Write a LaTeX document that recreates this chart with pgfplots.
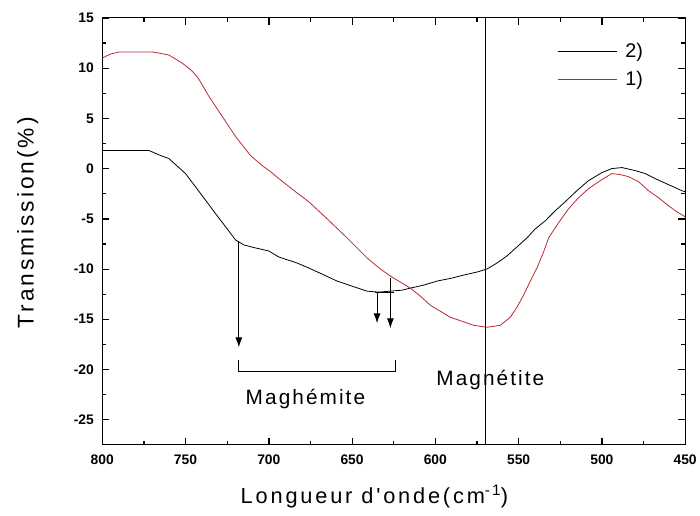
\documentclass[border=0pt]{standalone}
\usepackage{fontspec}
\setmainfont{Liberation Sans}
\newfontfamily\spaced[LetterSpace=10]{Liberation Sans}
\newfontfamily\spacedx[LetterSpace=13]{Liberation Sans}
\usepackage{pgfplots}
\pgfplotsset{compat=1.18}
\usetikzlibrary{calc,arrows.meta}
\definecolor{curvered}{RGB}{185,40,50}

\begin{document}
\begin{tikzpicture}
\begin{axis}[
    name=ax,
    scale only axis,
    width=587bp, height=430bp,
    x dir=reverse,
    xmin=450, xmax=800,
    ymin=-27.5, ymax=15,
    xtick={450,500,...,800},
    ytick={-25,-20,...,15},
    minor tick num=1,
    tick align=inside,
    tickwidth=7bp,
    subtickwidth=4bp,
    every tick/.append style={black, semithick},
    axis line style={line width=1pt},
    ticklabel style={font=\bfseries\fontsize{14}{16}\selectfont},
    xticklabel={\pgfmathprintnumber[assume math mode=true,1000 sep={}]{\tick}},
    yticklabel={\pgfmathprintnumber[assume math mode=true]{\tick}},
    xticklabel style={yshift=-7bp},
    yticklabel style={xshift=-5bp},
    xlabel={Longueur d'onde(cm\textsuperscript{-1})},
    ylabel={Transmission(\%)},
    xlabel style={font=\spacedx\fontsize{22}{25}\selectfont, at={(axis description cs:0.467,0)}, anchor=center, yshift=-52bp},
    ylabel style={font=\spacedx\fontsize{23}{26}\selectfont, at={(axis description cs:-0.128,0.52)}, anchor=center},
    legend style={draw=none, fill=none, at={(axis description cs:0.775,0.95)}, anchor=north west,
        font=\fontsize{20}{23}\selectfont, row sep=8bp,
        /tikz/every odd column/.append style={column sep=6bp}},
    legend cell align=left,
    legend image code/.code={\draw[#1] (0bp,0bp) -- (60bp,0bp);},
]

\addplot[black, line width=0.8pt] coordinates {
(800,1.8) (790,1.8) (780,1.8) (772,1.8) (765,1.3) (760,1.0) (750,-0.5)
(740,-2.7) (731,-4.7) (725,-6.0) (720,-7.1) (715,-7.6) (708,-7.9) (700,-8.2)
(694,-8.8) (683,-9.4) (676,-9.9) (668,-10.5) (659,-11.2) (650,-11.7) (641,-12.2)
(634,-12.3) (627,-12.2) (620,-12.1) (615,-11.9) (607,-11.6) (599,-11.2) (590,-10.9)
(583,-10.6) (575,-10.3) (569,-10.0) (563,-9.4) (557,-8.7) (551,-7.8) (545,-6.9)
(540,-6.0) (534,-5.2) (528,-4.2) (522,-3.3) (515,-2.2) (508,-1.2) (500,-0.4)
(494,0.0) (488,0.1) (480,-0.2) (474,-0.5) (468,-1.0) (460,-1.6) (452,-2.2) (450,-2.3)
};
\addlegendentry{2)}

\addplot[curvered, line width=0.8pt] coordinates {
(800,11.0) (795,11.4) (790,11.6) (780,11.6) (770,11.6) (766,11.5) (760,11.3)
(752,10.5) (746,9.7) (742,8.9) (736,7.2) (728,5.2) (720,3.2) (711,1.3) (704,0.3)
(699,-0.3) (694,-1.0) (684,-2.3) (676,-3.3) (665,-5.0) (653,-6.9) (641,-8.9)
(633,-10.0) (627,-10.7) (621,-11.3) (615,-11.9) (609,-12.7) (603,-13.6) (597,-14.2)
(591,-14.8) (584,-15.2) (577,-15.6) (569,-15.8) (561,-15.6) (555,-14.8) (551,-13.8)
(547,-12.6) (543,-11.2) (539,-9.9) (535,-8.3) (532,-6.9) (526,-5.4) (520,-4.0)
(514,-2.9) (508,-2.0) (501,-1.2) (494,-0.5) (489,-0.6) (484,-0.8) (478,-1.3)
(472,-2.2) (466,-2.9) (460,-3.7) (455,-4.3) (451,-4.7) (450,-4.8)
};
\addlegendentry{1)}

% Magnetite line
\addplot[black, line width=1pt, forget plot] coordinates {(570,15) (570,-27.5)};

% tick marks drawn by hand as well
\pgfplotsinvokeforeach{450,500,...,800}{
  \draw[line width=1pt] (axis cs:#1,-27.5) -- ++(0bp,7bp);
  \draw[line width=1pt] (axis cs:#1,15) -- ++(0bp,-7bp);
}
\pgfplotsinvokeforeach{475,525,...,775}{
  \draw[line width=1pt] (axis cs:#1,-27.5) -- ++(0bp,4bp);
  \draw[line width=1pt] (axis cs:#1,15) -- ++(0bp,-4bp);
}
\pgfplotsinvokeforeach{-25,-20,...,15}{
  \draw[line width=1pt] (axis cs:800,#1) -- ++(7bp,0bp);
  \draw[line width=1pt] (axis cs:450,#1) -- ++(-7bp,0bp);
}
\pgfplotsinvokeforeach{-22.5,-17.5,...,12.5}{
  \draw[line width=1pt] (axis cs:800,#1) -- ++(4bp,0bp);
  \draw[line width=1pt] (axis cs:450,#1) -- ++(-4bp,0bp);
}

% maghemite annotations
\draw[line width=1pt, -{Latex[length=10bp,width=7bp]}] (axis cs:718,-7.2) -- (axis cs:718,-17.8);
\draw[line width=0.8pt] (axis cs:636,-12.3) -- (axis cs:625,-12.3);
\draw[line width=1pt, -{Latex[length=10bp,width=7bp]}] (axis cs:635,-12.3) -- (axis cs:635,-15.4);
\draw[line width=1pt, -{Latex[length=10bp,width=7bp]}] (axis cs:627,-10.9) -- (axis cs:627,-15.9);
\draw[line width=0.8pt] (axis cs:718,-19.1) -- (axis cs:718,-20.2) -- (axis cs:624,-20.2) -- (axis cs:624,-19.1);
\node[font=\spaced\fontsize{21}{24}\selectfont] at (axis cs:678,-22.9) {Maghémite};
\node[font=\spaced\fontsize{21}{24}\selectfont] at (axis cs:567,-21.0) {Magnétite};
\end{axis}
\path ($(ax.south west)+(-103bp,-71bp)$) rectangle ($(ax.north east)+(10bp,18bp)$);
\end{tikzpicture}
\end{document}
